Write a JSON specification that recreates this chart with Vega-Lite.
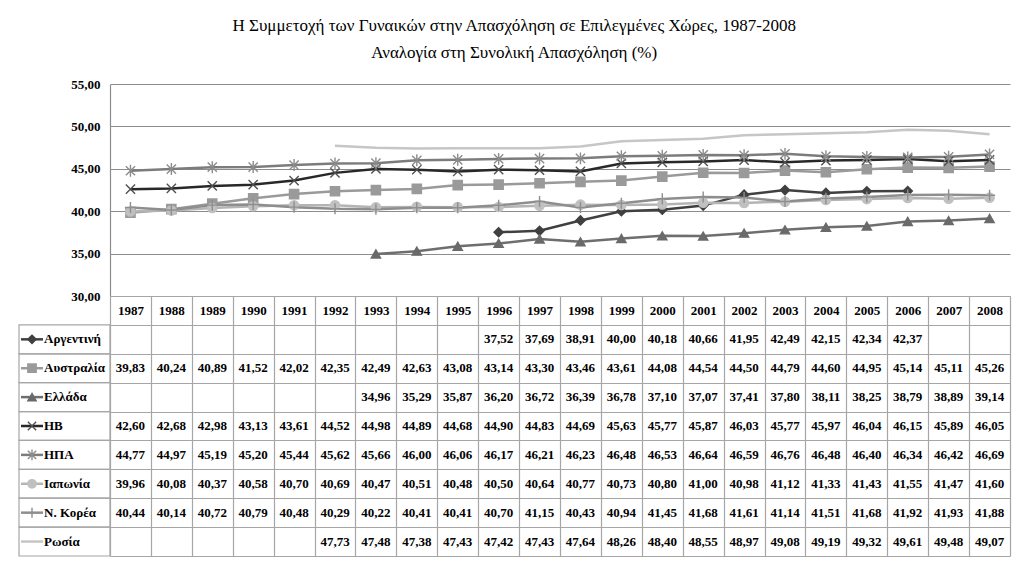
{
  "$schema": "https://vega.github.io/schema/vega-lite/v6.json",
  "padding": {"left": 18, "top": 17, "right": 10, "bottom": 5},
  "title": {
    "text": ["Η Συμμετοχή των Γυναικών στην Απασχόληση σε Επιλεγμένες Χώρες, 1987-2008", "Αναλογία στη Συνολική Απασχόληση (%)"],
    "font": "Liberation Serif", "fontSize": 17, "fontWeight": "normal", "lineHeight": 27, "color": "#000000", "anchor": "middle", "offset": 16
  },
  "config": {
    "view": {"stroke": null},
    "font": "Liberation Serif",
    "locale": {"number": {"decimal": ",", "thousands": ".", "grouping": [3], "currency": ["", " €"]}}
  },
  "datasets": {
    "series": [
      {"series": "Αργεντινή"}, {"series": "Αυστραλία"}, {"series": "Ελλάδα"}, {"series": "ΗΒ"},
      {"series": "ΗΠΑ"}, {"series": "Ιαπωνία"}, {"series": "Ν. Κορέα"}, {"series": "Ρωσία"}
    ],
    "obs": [
      {"series": "Αργεντινή", "year": "1996", "value": 37.52},
      {"series": "Αργεντινή", "year": "1997", "value": 37.69},
      {"series": "Αργεντινή", "year": "1998", "value": 38.91},
      {"series": "Αργεντινή", "year": "1999", "value": 40.00},
      {"series": "Αργεντινή", "year": "2000", "value": 40.18},
      {"series": "Αργεντινή", "year": "2001", "value": 40.66},
      {"series": "Αργεντινή", "year": "2002", "value": 41.95},
      {"series": "Αργεντινή", "year": "2003", "value": 42.49},
      {"series": "Αργεντινή", "year": "2004", "value": 42.15},
      {"series": "Αργεντινή", "year": "2005", "value": 42.34},
      {"series": "Αργεντινή", "year": "2006", "value": 42.37},
      {"series": "Αυστραλία", "year": "1987", "value": 39.83},
      {"series": "Αυστραλία", "year": "1988", "value": 40.24},
      {"series": "Αυστραλία", "year": "1989", "value": 40.89},
      {"series": "Αυστραλία", "year": "1990", "value": 41.52},
      {"series": "Αυστραλία", "year": "1991", "value": 42.02},
      {"series": "Αυστραλία", "year": "1992", "value": 42.35},
      {"series": "Αυστραλία", "year": "1993", "value": 42.49},
      {"series": "Αυστραλία", "year": "1994", "value": 42.63},
      {"series": "Αυστραλία", "year": "1995", "value": 43.08},
      {"series": "Αυστραλία", "year": "1996", "value": 43.14},
      {"series": "Αυστραλία", "year": "1997", "value": 43.30},
      {"series": "Αυστραλία", "year": "1998", "value": 43.46},
      {"series": "Αυστραλία", "year": "1999", "value": 43.61},
      {"series": "Αυστραλία", "year": "2000", "value": 44.08},
      {"series": "Αυστραλία", "year": "2001", "value": 44.54},
      {"series": "Αυστραλία", "year": "2002", "value": 44.50},
      {"series": "Αυστραλία", "year": "2003", "value": 44.79},
      {"series": "Αυστραλία", "year": "2004", "value": 44.60},
      {"series": "Αυστραλία", "year": "2005", "value": 44.95},
      {"series": "Αυστραλία", "year": "2006", "value": 45.14},
      {"series": "Αυστραλία", "year": "2007", "value": 45.11},
      {"series": "Αυστραλία", "year": "2008", "value": 45.26},
      {"series": "Ελλάδα", "year": "1993", "value": 34.96},
      {"series": "Ελλάδα", "year": "1994", "value": 35.29},
      {"series": "Ελλάδα", "year": "1995", "value": 35.87},
      {"series": "Ελλάδα", "year": "1996", "value": 36.20},
      {"series": "Ελλάδα", "year": "1997", "value": 36.72},
      {"series": "Ελλάδα", "year": "1998", "value": 36.39},
      {"series": "Ελλάδα", "year": "1999", "value": 36.78},
      {"series": "Ελλάδα", "year": "2000", "value": 37.10},
      {"series": "Ελλάδα", "year": "2001", "value": 37.07},
      {"series": "Ελλάδα", "year": "2002", "value": 37.41},
      {"series": "Ελλάδα", "year": "2003", "value": 37.80},
      {"series": "Ελλάδα", "year": "2004", "value": 38.11},
      {"series": "Ελλάδα", "year": "2005", "value": 38.25},
      {"series": "Ελλάδα", "year": "2006", "value": 38.79},
      {"series": "Ελλάδα", "year": "2007", "value": 38.89},
      {"series": "Ελλάδα", "year": "2008", "value": 39.14},
      {"series": "ΗΒ", "year": "1987", "value": 42.60},
      {"series": "ΗΒ", "year": "1988", "value": 42.68},
      {"series": "ΗΒ", "year": "1989", "value": 42.98},
      {"series": "ΗΒ", "year": "1990", "value": 43.13},
      {"series": "ΗΒ", "year": "1991", "value": 43.61},
      {"series": "ΗΒ", "year": "1992", "value": 44.52},
      {"series": "ΗΒ", "year": "1993", "value": 44.98},
      {"series": "ΗΒ", "year": "1994", "value": 44.89},
      {"series": "ΗΒ", "year": "1995", "value": 44.68},
      {"series": "ΗΒ", "year": "1996", "value": 44.90},
      {"series": "ΗΒ", "year": "1997", "value": 44.83},
      {"series": "ΗΒ", "year": "1998", "value": 44.69},
      {"series": "ΗΒ", "year": "1999", "value": 45.63},
      {"series": "ΗΒ", "year": "2000", "value": 45.77},
      {"series": "ΗΒ", "year": "2001", "value": 45.87},
      {"series": "ΗΒ", "year": "2002", "value": 46.03},
      {"series": "ΗΒ", "year": "2003", "value": 45.77},
      {"series": "ΗΒ", "year": "2004", "value": 45.97},
      {"series": "ΗΒ", "year": "2005", "value": 46.04},
      {"series": "ΗΒ", "year": "2006", "value": 46.15},
      {"series": "ΗΒ", "year": "2007", "value": 45.89},
      {"series": "ΗΒ", "year": "2008", "value": 46.05},
      {"series": "ΗΠΑ", "year": "1987", "value": 44.77},
      {"series": "ΗΠΑ", "year": "1988", "value": 44.97},
      {"series": "ΗΠΑ", "year": "1989", "value": 45.19},
      {"series": "ΗΠΑ", "year": "1990", "value": 45.20},
      {"series": "ΗΠΑ", "year": "1991", "value": 45.44},
      {"series": "ΗΠΑ", "year": "1992", "value": 45.62},
      {"series": "ΗΠΑ", "year": "1993", "value": 45.66},
      {"series": "ΗΠΑ", "year": "1994", "value": 46.00},
      {"series": "ΗΠΑ", "year": "1995", "value": 46.06},
      {"series": "ΗΠΑ", "year": "1996", "value": 46.17},
      {"series": "ΗΠΑ", "year": "1997", "value": 46.21},
      {"series": "ΗΠΑ", "year": "1998", "value": 46.23},
      {"series": "ΗΠΑ", "year": "1999", "value": 46.48},
      {"series": "ΗΠΑ", "year": "2000", "value": 46.53},
      {"series": "ΗΠΑ", "year": "2001", "value": 46.64},
      {"series": "ΗΠΑ", "year": "2002", "value": 46.59},
      {"series": "ΗΠΑ", "year": "2003", "value": 46.76},
      {"series": "ΗΠΑ", "year": "2004", "value": 46.48},
      {"series": "ΗΠΑ", "year": "2005", "value": 46.40},
      {"series": "ΗΠΑ", "year": "2006", "value": 46.34},
      {"series": "ΗΠΑ", "year": "2007", "value": 46.42},
      {"series": "ΗΠΑ", "year": "2008", "value": 46.69},
      {"series": "Ιαπωνία", "year": "1987", "value": 39.96},
      {"series": "Ιαπωνία", "year": "1988", "value": 40.08},
      {"series": "Ιαπωνία", "year": "1989", "value": 40.37},
      {"series": "Ιαπωνία", "year": "1990", "value": 40.58},
      {"series": "Ιαπωνία", "year": "1991", "value": 40.70},
      {"series": "Ιαπωνία", "year": "1992", "value": 40.69},
      {"series": "Ιαπωνία", "year": "1993", "value": 40.47},
      {"series": "Ιαπωνία", "year": "1994", "value": 40.51},
      {"series": "Ιαπωνία", "year": "1995", "value": 40.48},
      {"series": "Ιαπωνία", "year": "1996", "value": 40.50},
      {"series": "Ιαπωνία", "year": "1997", "value": 40.64},
      {"series": "Ιαπωνία", "year": "1998", "value": 40.77},
      {"series": "Ιαπωνία", "year": "1999", "value": 40.73},
      {"series": "Ιαπωνία", "year": "2000", "value": 40.80},
      {"series": "Ιαπωνία", "year": "2001", "value": 41.00},
      {"series": "Ιαπωνία", "year": "2002", "value": 40.98},
      {"series": "Ιαπωνία", "year": "2003", "value": 41.12},
      {"series": "Ιαπωνία", "year": "2004", "value": 41.33},
      {"series": "Ιαπωνία", "year": "2005", "value": 41.43},
      {"series": "Ιαπωνία", "year": "2006", "value": 41.55},
      {"series": "Ιαπωνία", "year": "2007", "value": 41.47},
      {"series": "Ιαπωνία", "year": "2008", "value": 41.60},
      {"series": "Ν. Κορέα", "year": "1987", "value": 40.44},
      {"series": "Ν. Κορέα", "year": "1988", "value": 40.14},
      {"series": "Ν. Κορέα", "year": "1989", "value": 40.72},
      {"series": "Ν. Κορέα", "year": "1990", "value": 40.79},
      {"series": "Ν. Κορέα", "year": "1991", "value": 40.48},
      {"series": "Ν. Κορέα", "year": "1992", "value": 40.29},
      {"series": "Ν. Κορέα", "year": "1993", "value": 40.22},
      {"series": "Ν. Κορέα", "year": "1994", "value": 40.41},
      {"series": "Ν. Κορέα", "year": "1995", "value": 40.41},
      {"series": "Ν. Κορέα", "year": "1996", "value": 40.70},
      {"series": "Ν. Κορέα", "year": "1997", "value": 41.15},
      {"series": "Ν. Κορέα", "year": "1998", "value": 40.43},
      {"series": "Ν. Κορέα", "year": "1999", "value": 40.94},
      {"series": "Ν. Κορέα", "year": "2000", "value": 41.45},
      {"series": "Ν. Κορέα", "year": "2001", "value": 41.68},
      {"series": "Ν. Κορέα", "year": "2002", "value": 41.61},
      {"series": "Ν. Κορέα", "year": "2003", "value": 41.14},
      {"series": "Ν. Κορέα", "year": "2004", "value": 41.51},
      {"series": "Ν. Κορέα", "year": "2005", "value": 41.68},
      {"series": "Ν. Κορέα", "year": "2006", "value": 41.92},
      {"series": "Ν. Κορέα", "year": "2007", "value": 41.93},
      {"series": "Ν. Κορέα", "year": "2008", "value": 41.88},
      {"series": "Ρωσία", "year": "1992", "value": 47.73},
      {"series": "Ρωσία", "year": "1993", "value": 47.48},
      {"series": "Ρωσία", "year": "1994", "value": 47.38},
      {"series": "Ρωσία", "year": "1995", "value": 47.43},
      {"series": "Ρωσία", "year": "1996", "value": 47.42},
      {"series": "Ρωσία", "year": "1997", "value": 47.43},
      {"series": "Ρωσία", "year": "1998", "value": 47.64},
      {"series": "Ρωσία", "year": "1999", "value": 48.26},
      {"series": "Ρωσία", "year": "2000", "value": 48.40},
      {"series": "Ρωσία", "year": "2001", "value": 48.55},
      {"series": "Ρωσία", "year": "2002", "value": 48.97},
      {"series": "Ρωσία", "year": "2003", "value": 49.08},
      {"series": "Ρωσία", "year": "2004", "value": 49.19},
      {"series": "Ρωσία", "year": "2005", "value": 49.32},
      {"series": "Ρωσία", "year": "2006", "value": 49.61},
      {"series": "Ρωσία", "year": "2007", "value": 49.48},
      {"series": "Ρωσία", "year": "2008", "value": 49.07}
    ]
  },
  "columns": 2,
  "spacing": 0,
  "bounds": "flush",
  "concat": [
    {
      "width": 91, "height": 212,
      "data": {"values": []},
      "mark": "point"
    },
    {
      "width": 900, "height": 212,
      "data": {"name": "obs"},
      "encoding": {
        "x": {"field": "year", "type": "ordinal", "axis": null,
              "scale": {"type": "point", "padding": 0.5,
                        "domain": ["1987","1988","1989","1990","1991","1992","1993","1994","1995","1996","1997","1998","1999","2000","2001","2002","2003","2004","2005","2006","2007","2008"]}},
        "y": {"field": "value", "type": "quantitative",
              "scale": {"domain": [30, 55], "nice": false, "zero": false},
              "axis": {"title": null, "values": [30, 35, 40, 45, 50, 55], "format": ".2f",
                       "grid": true, "gridColor": "#8c8c8c", "gridWidth": 1.2,
                       "domain": true, "domainColor": "#8c8c8c", "domainWidth": 1.2, "ticks": false,
                       "labelFont": "Liberation Serif", "labelFontSize": 13, "labelFontWeight": "bold",
                       "labelColor": "#000000", "labelPadding": 10}}
      },
      "layer": [
        {
          "mark": {"type": "line", "strokeWidth": 2.5},
          "encoding": {
            "color": {"field": "series", "type": "nominal", "legend": null,
                      "scale": {"domain": ["Αργεντινή","Αυστραλία","Ελλάδα","ΗΒ","ΗΠΑ","Ιαπωνία","Ν. Κορέα","Ρωσία"],
                                "range": ["#404040","#9a9a9a","#6e6e6e","#282828","#7c7c7c","#b4b4b4","#8e8e8e","#c6c6c6"]}}
          }
        },
        {
          "transform": [{"filter": "datum.series !== 'Ρωσία'"}],
          "mark": {"type": "point", "strokeWidth": 1.4, "opacity": 1, "size": 85},
          "encoding": {
            "shape": {"field": "series", "type": "nominal", "legend": null,
                      "scale": {"domain": ["Αργεντινή","Αυστραλία","Ελλάδα","ΗΒ","ΗΠΑ","Ιαπωνία","Ν. Κορέα","Ρωσία"],
                                "range": ["diamond","square","triangle-up","M-1,-1L1,1M-1,1L1,-1","M-1,-1L1,1M-1,1L1,-1M0,-1.3L0,1.3","circle","M-1.2,0L1.2,0M0,-1.2L0,1.2","circle"]}},
            "fill": {"field": "series", "type": "nominal", "legend": null,
                     "scale": {"domain": ["Αργεντινή","Αυστραλία","Ελλάδα","ΗΒ","ΗΠΑ","Ιαπωνία","Ν. Κορέα","Ρωσία"],
                               "range": ["#404040","#9a9a9a","#6a6a6a","#505050","#8c8c8c","#c0c0c0","#8e8e8e","#c6c6c6"]}},
            "stroke": {"field": "series", "type": "nominal", "legend": null,
                       "scale": {"domain": ["Αργεντινή","Αυστραλία","Ελλάδα","ΗΒ","ΗΠΑ","Ιαπωνία","Ν. Κορέα","Ρωσία"],
                                 "range": ["#404040","#9a9a9a","#6a6a6a","#505050","#8c8c8c","#c0c0c0","#8e8e8e","#c6c6c6"]}}
          }
        }
      ]
    },
    {
      "width": 91, "height": 260,
      "data": {"name": "series"},
      "encoding": {
        "y": {"field": "series", "type": "nominal", "axis": null,
              "scale": {"type": "band", "paddingInner": 0, "paddingOuter": 0,
                        "domain": [" ","Αργεντινή","Αυστραλία","Ελλάδα","ΗΒ","ΗΠΑ","Ιαπωνία","Ν. Κορέα","Ρωσία"]}}
      },
      "layer": [
        {
          "mark": {"type": "rect", "fillOpacity": 0, "stroke": "#a6a6a6", "strokeWidth": 1.2},
          "encoding": {
            "x": {"datum": 0, "type": "quantitative", "axis": null, "scale": {"domain": [0, 91], "nice": false, "zero": false}},
            "x2": {"datum": 91}
          }
        },
        {
          "mark": {"type": "rule", "strokeWidth": 2.5},
          "encoding": {
            "x": {"datum": 2, "type": "quantitative"},
            "x2": {"datum": 24},
            "color": {"field": "series", "type": "nominal", "legend": null,
                      "scale": {"domain": ["Αργεντινή","Αυστραλία","Ελλάδα","ΗΒ","ΗΠΑ","Ιαπωνία","Ν. Κορέα","Ρωσία"],
                                "range": ["#404040","#9a9a9a","#6e6e6e","#282828","#7c7c7c","#b4b4b4","#8e8e8e","#c6c6c6"]}}
          }
        },
        {
          "transform": [{"filter": "datum.series !== 'Ρωσία'"}],
          "mark": {"type": "point", "strokeWidth": 1.4, "opacity": 1, "size": 70},
          "encoding": {
            "x": {"datum": 13, "type": "quantitative"},
            "shape": {"field": "series", "type": "nominal", "legend": null},
            "fill": {"field": "series", "type": "nominal", "legend": null},
            "stroke": {"field": "series", "type": "nominal", "legend": null}
          }
        },
        {
          "mark": {"type": "text", "align": "left", "baseline": "middle", "font": "Liberation Serif", "fontSize": 13, "fontWeight": "bold", "color": "#000000"},
          "encoding": {
            "x": {"datum": 25, "type": "quantitative"},
            "text": {"field": "series", "type": "nominal"}
          }
        }
      ]
    },
    {
      "width": 900, "height": 260,
      "data": {"name": "obs"},
      "mark": {"type": "text", "font": "Liberation Serif", "fontSize": 13, "fontWeight": "bold", "color": "#000000", "baseline": "middle"},
      "encoding": {
        "x": {"field": "year", "type": "ordinal",
              "scale": {"type": "band", "paddingInner": 0, "paddingOuter": 0,
                        "domain": ["1987","1988","1989","1990","1991","1992","1993","1994","1995","1996","1997","1998","1999","2000","2001","2002","2003","2004","2005","2006","2007","2008"]},
              "axis": {"orient": "top", "title": null, "grid": true, "gridColor": "#a6a6a6", "gridWidth": 1.2, "tickBand": "extent",
                       "ticks": false, "domain": false, "labelAngle": 0, "labelPadding": -14.5, "labelBaseline": "middle",
                       "labelFont": "Liberation Serif", "labelFontSize": 13, "labelFontWeight": "bold", "labelColor": "#000000"}},
        "y": {"field": "series", "type": "nominal",
              "scale": {"type": "band", "paddingInner": 0, "paddingOuter": 0,
                        "domain": [" ","Αργεντινή","Αυστραλία","Ελλάδα","ΗΒ","ΗΠΑ","Ιαπωνία","Ν. Κορέα","Ρωσία"]},
              "axis": {"title": null, "grid": true, "gridColor": "#a6a6a6", "gridWidth": 1.2, "tickBand": "extent",
                       "ticks": false, "domain": false, "labels": false}},
        "text": {"field": "value", "type": "quantitative", "format": ".2f"}
      }
    }
  ]
}
